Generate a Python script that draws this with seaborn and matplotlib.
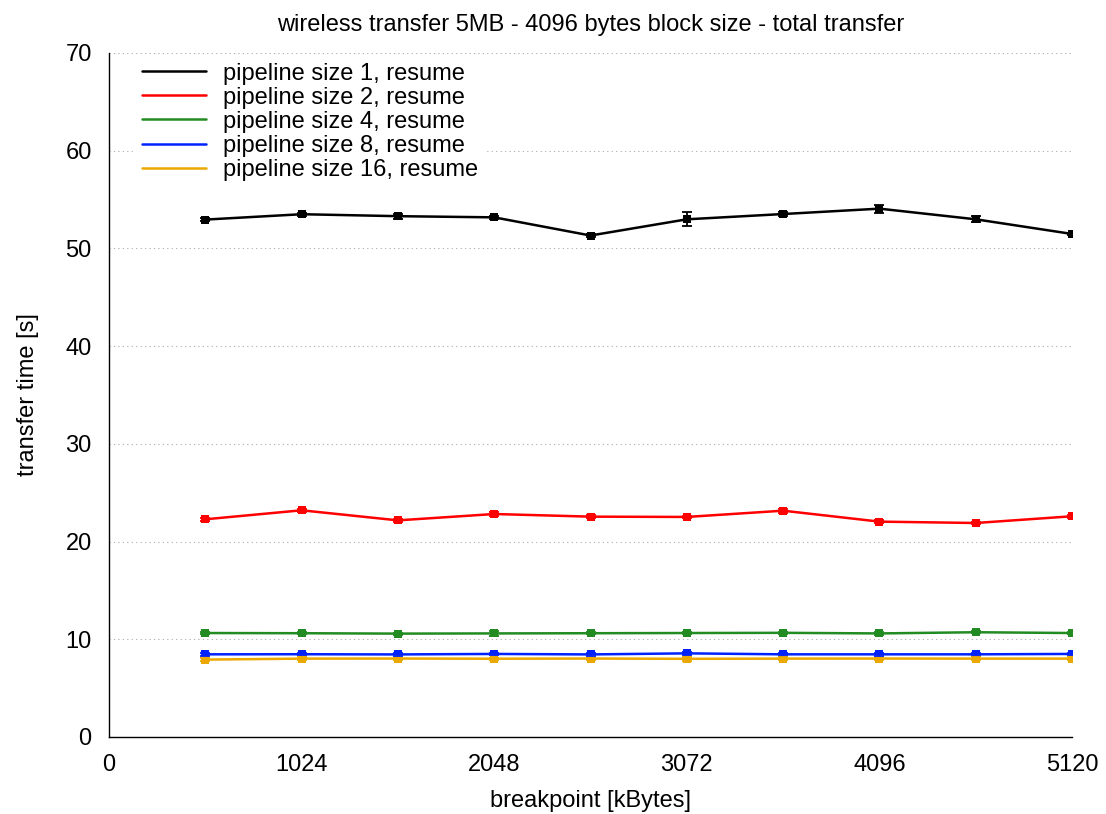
import numpy as np
import pandas as pd
import matplotlib
matplotlib.use("Agg")
import matplotlib.pyplot as plt
import seaborn as sns

breakpoints = [512, 1024, 1536, 2048, 2560, 3072, 3584, 4096, 4608, 5120]
series_names = ["pipeline size 1, resume", "pipeline size 2, resume",
                "pipeline size 4, resume", "pipeline size 8, resume",
                "pipeline size 16, resume"]
colors = ["#000000", "#ff0000", "#228b22", "#0022ff", "#eaa800"]

pipe1 = [52.95, 53.5, 53.3, 53.18, 51.32, 52.98, 53.52, 54.07, 52.98, 51.48]
pipe1_err = [0.15, 0.15, 0.25, 0.12, 0.15, 0.7, 0.2, 0.4, 0.3, 0.08]
pipe2 = [22.28, 23.2, 22.17, 22.82, 22.55, 22.52, 23.16, 22.04, 21.9, 22.59]
pipe2_err = [0.15, 0.15, 0.12, 0.2, 0.12, 0.12, 0.22, 0.15, 0.1, 0.15]
pipe4 = [10.64, 10.62, 10.58, 10.6, 10.62, 10.64, 10.66, 10.6, 10.72, 10.64]
pipe4_err = [0.1, 0.1, 0.1, 0.25, 0.1, 0.12, 0.1, 0.12, 0.12, 0.1]
pipe8 = [8.46, 8.47, 8.45, 8.5, 8.45, 8.56, 8.46, 8.46, 8.46, 8.5]
pipe8_err = [0.12, 0.12, 0.12, 0.12, 0.12, 0.12, 0.12, 0.12, 0.12, 0.12]
pipe16 = [7.92, 8.02, 8.03, 8.01, 8.03, 8.0, 8.02, 8.03, 8.02, 8.02]
pipe16_err = [0.15, 0.12, 0.1, 0.1, 0.1, 0.2, 0.12, 0.1, 0.12, 0.12]

values = [pipe1, pipe2, pipe4, pipe8, pipe16]
errors = [pipe1_err, pipe2_err, pipe4_err, pipe8_err, pipe16_err]

rows = []
for name, vals, errs in zip(series_names, values, errors):
    for x, v, e in zip(breakpoints, vals, errs):
        rows.append({"breakpoint": x, "time": v, "err": e, "series": name})
df = pd.DataFrame(rows)

sns.set_style("white")
plt.rcParams["font.family"] = ["Liberation Sans", "DejaVu Sans"]
plt.rcParams["text.color"] = "black"
plt.rcParams["axes.labelcolor"] = "black"
plt.rcParams["xtick.color"] = "black"
plt.rcParams["ytick.color"] = "black"

fig = plt.figure(figsize=(11.06, 8.14), dpi=100)
ax = fig.add_axes([0.0986, 0.0946, 0.8707, 0.8403])

sns.lineplot(data=df, x="breakpoint", y="time", hue="series",
             hue_order=series_names, palette=colors, linewidth=1.8,
             marker="s", markersize=5.5, markeredgewidth=0, ax=ax, zorder=3)

for name, col in zip(series_names, colors):
    d = df[df.series == name]
    ax.errorbar(d["breakpoint"], d["time"], yerr=d["err"], fmt="none",
                ecolor=col, elinewidth=1.3, capsize=3.5, capthick=1.3, zorder=3)

ax.set_xlim(0, 5120)
ax.set_ylim(0, 70)
ax.set_xticks([0, 1024, 2048, 3072, 4096, 5120])
ax.set_yticks(range(0, 71, 10))
ax.tick_params(axis="x", direction="in", length=5, width=0.8, labelsize=17, pad=12)
ax.tick_params(axis="y", length=0, labelsize=17, pad=12.5)
ax.yaxis.grid(True, linestyle=(0, (1, 3)), color="#aaaaaa", linewidth=0.8)
ax.xaxis.grid(False)
ax.set_axisbelow(True)

for side in ["top", "right"]:
    ax.spines[side].set_visible(False)
for side in ["left", "bottom"]:
    ax.spines[side].set_color("black")
    ax.spines[side].set_linewidth(1.0)

ax.set_xlabel("breakpoint [kBytes]", fontsize=17, labelpad=10)
ax.set_ylabel("transfer time [s]", fontsize=17, labelpad=19)
ax.set_title("wireless transfer 5MB - 4096 bytes block size - total transfer",
             fontsize=17, pad=16)

handles, labels = ax.get_legend_handles_labels()
for h in handles:
    h.set_marker("")
leg = ax.legend(handles, labels, loc="upper left", bbox_to_anchor=(0.022, 1.003),
                fontsize=17, frameon=True, framealpha=1, edgecolor="none",
                facecolor="white", handlelength=2.7, handletextpad=0.72,
                labelspacing=0.085, borderpad=0.3, borderaxespad=0.2)

fig.savefig("out.png", dpi=100)
